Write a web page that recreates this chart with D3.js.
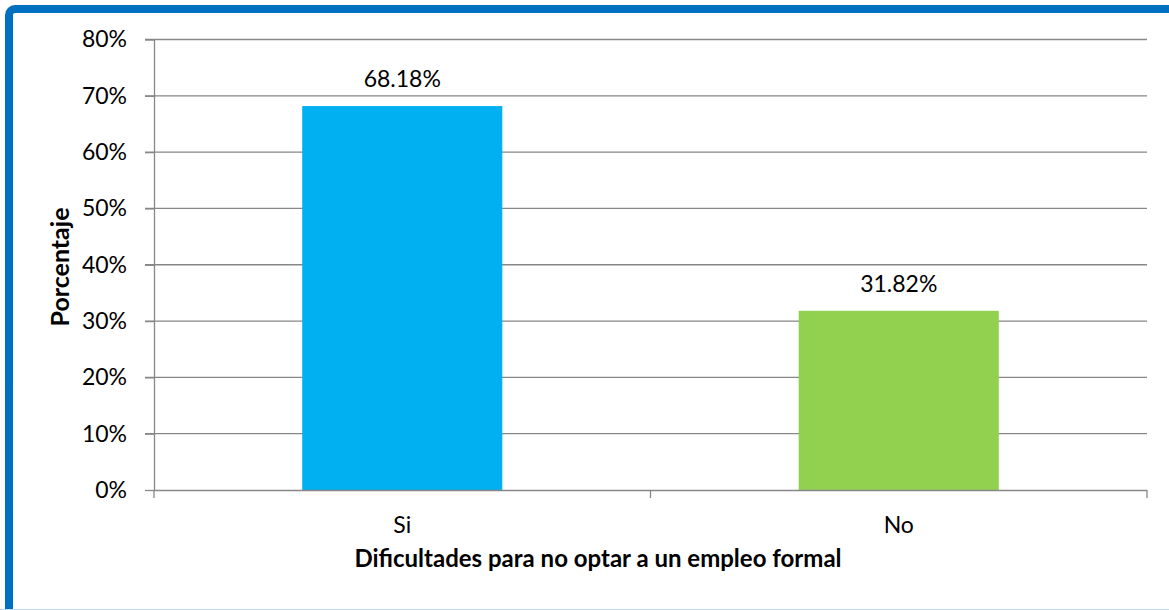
<!DOCTYPE html>
<html>
<head>
<meta charset="utf-8">
<script src="https://cdn.jsdelivr.net/npm/d3@7"></script>
<style>
  body { margin: 0; background: #fff; }
  svg { display: block; }
</style>
</head>
<body>
<span></span>
<script>
let width = 1169;
let height = 610;

// datos
let categories = ["Si", "No"];
let values = [68.18, 31.82];
let colors = ["#00B0F0", "#92D050"];
let yTicks = [0, 10, 20, 30, 40, 50, 60, 70, 80];

let margin = { left: 154, right: 22, top: 39.5, bottom: 120 };

let svg = d3.select("span")
    .append("svg")
    .attr("width", width)
    .attr("height", height);

// marco azul
svg.append("rect")
    .attr("x", 9).attr("y", 9)
    .attr("width", 1180).attr("height", 620)
    .attr("rx", 6)
    .style("fill", "#fff")
    .style("stroke", "#0070C0")
    .style("stroke-width", 8);
svg.append("line")
    .attr("x1", 0).attr("x2", width)
    .attr("y1", 609.5).attr("y2", 609.5)
    .style("stroke", "#BDD7EE")
    .style("stroke-width", 1);

let x = d3.scaleBand()
    .domain(categories)
    .range([margin.left, width - margin.right])
    .paddingInner(0.597)
    .paddingOuter(0.2985);

let y = d3.scaleLinear()
    .domain([0, 80])
    .range([490, margin.top]);

// lineas de cuadricula
svg.append("g")
    .selectAll("line")
    .data(yTicks.filter(d => d > 0))
    .enter()
    .append("line")
    .attr("x1", margin.left - 9)
    .attr("x2", width - margin.right)
    .attr("y1", d => y(d))
    .attr("y2", d => y(d))
    .style("stroke", "#878787")
    .style("stroke-width", 1.3);

// barras
svg.append("g")
    .selectAll("rect")
    .data(values)
    .enter()
    .append("rect")
    .attr("x", (d, i) => x(categories[i]))
    .attr("width", x.bandwidth())
    .attr("y", d => y(d))
    .attr("height", d => y(0) - y(d))
    .style("fill", (d, i) => colors[i]);

// etiquetas de datos
svg.append("g")
    .selectAll("text")
    .data(values)
    .enter()
    .append("text")
    .attr("x", (d, i) => x(categories[i]) + x.bandwidth() / 2)
    .attr("y", d => y(d) - 19)
    .attr("text-anchor", "middle")
    .style("font-family", "Lato, sans-serif")
    .style("font-size", "23px")
    .style("fill", "#000")
    .text(d => d.toFixed(2) + "%");

// eje y
let yAxis = d3.axisLeft(y)
    .tickValues(yTicks)
    .tickSize(9)
    .tickSizeOuter(0)
    .tickPadding(18)
    .tickFormat(d => d + "%");

let gy = svg.append("g")
    .attr("transform", "translate(" + margin.left + ",0)")
    .call(yAxis);

// eje x
let xAxis = d3.axisBottom(x)
    .tickSize(0)
    .tickPadding(27);

let gx = svg.append("g")
    .attr("transform", "translate(0,490)")
    .call(xAxis);

// marcas del eje x entre categorias
let xBounds = [margin.left, (margin.left + width - margin.right) / 2, width - margin.right];
gx.selectAll(".sep")
    .data(xBounds)
    .enter()
    .append("line")
    .attr("class", "sep")
    .attr("x1", d => d).attr("x2", d => d)
    .attr("y1", 0).attr("y2", 8)
    .style("stroke", "#878787")
    .style("stroke-width", 1.3);

[gy, gx].forEach(function (g) {
    g.selectAll(".domain").style("stroke", "#878787").style("stroke-width", 1.3);
    g.selectAll(".tick line").style("stroke", "#878787").style("stroke-width", 1.3);
    g.selectAll("text")
        .style("font-family", "Lato, sans-serif")
        .style("font-size", "23px")
        .style("fill", "#000");
});
gx.select(".domain").attr("d", "M" + margin.left + ",0.5H" + (width - margin.right));

// titulos de ejes
svg.append("text")
    .attr("x", 598)
    .attr("y", 567)
    .attr("text-anchor", "middle")
    .style("font-family", "Lato, sans-serif")
    .style("font-weight", "bold")
    .style("font-size", "24px")
    .text("Dificultades para no optar a un empleo formal");

svg.append("text")
    .attr("transform", "translate(69,267) rotate(-90)")
    .attr("text-anchor", "middle")
    .style("font-family", "Lato, sans-serif")
    .style("font-weight", "bold")
    .style("font-size", "25px")
    .text("Porcentaje");
</script>
</body>
</html>
